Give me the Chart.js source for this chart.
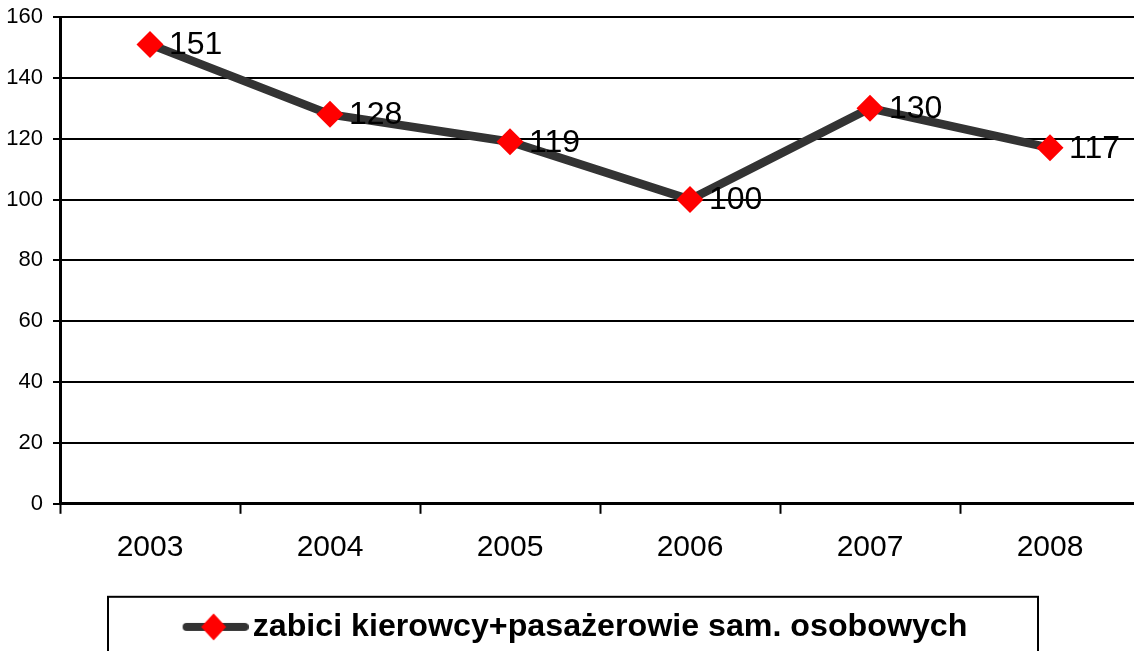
<!DOCTYPE html>
<html>
<head>
<meta charset="utf-8">
<script src="https://cdn.jsdelivr.net/npm/chart.js@4.4.0/dist/chart.umd.min.js"></script>
<style>
  html, body { margin: 0; padding: 0; background: #fff; overflow: hidden; }
  #wrap { width: 1134px; height: 651px; overflow: hidden; }
</style>
</head>
<body>
<div id="wrap">
  <canvas id="lineChart" width="1160" height="690"></canvas>
</div>
<script>
const years = ["2003", "2004", "2005", "2006", "2007", "2008"];
const killed = [151, 128, 119, 100, 130, 117];
const seriesLabel = "zabici kierowcy+pasażerowie sam. osobowych";
const yTicks = [0, 20, 40, 60, 80, 100, 120, 140, 160];

// legend symbol: line with a red diamond
const legendIcon = document.createElement("canvas");
legendIcon.width = 74;
legendIcon.height = 28;
(function () {
  const c = legendIcon.getContext("2d");
  c.strokeStyle = "#333333";
  c.lineWidth = 8;
  c.lineCap = "round";
  c.beginPath();
  c.moveTo(12, 14);
  c.lineTo(70, 14);
  c.stroke();
  c.fillStyle = "#ff0000";
  c.beginPath();
  c.moveTo(39, 0.5);
  c.lineTo(51.5, 14);
  c.lineTo(39, 27.5);
  c.lineTo(26.5, 14);
  c.closePath();
  c.fill();
})();

// value labels to the right of each point
const valueLabels = {
  id: "valueLabels",
  afterDatasetsDraw(chart) {
    const ctx = chart.ctx;
    const meta = chart.getDatasetMeta(0);
    ctx.save();
    ctx.font = "32px 'Liberation Sans', Arial, sans-serif";
    ctx.fillStyle = "#000";
    ctx.textAlign = "left";
    ctx.textBaseline = "middle";
    meta.data.forEach((pt, i) => {
      ctx.fillText(String(killed[i]), pt.x + 19, pt.y + 1);
    });
    ctx.restore();
  }
};

// nudge the legend a little right and draw a frame round it
const legendFrame = {
  id: "legendFrame",
  afterLayout(chart) {
    chart.legend.left += 7;
    chart.legend.right += 7;
  },
  afterDraw(chart) {
    const box = chart.legend.legendHitBoxes[0];
    if (!box) return;
    const ctx = chart.ctx;
    ctx.save();
    ctx.strokeStyle = "#000";
    ctx.lineWidth = 2;
    ctx.strokeRect(108, box.top - 14, 930, 120);
    ctx.restore();
  }
};

new Chart(document.getElementById("lineChart"), {
  type: "line",
  data: {
    labels: years,
    datasets: [{
      label: seriesLabel,
      data: killed,
      borderColor: "#333333",
      borderWidth: 8.5,
      backgroundColor: "#ff0000",
      pointStyle: "rectRot",
      pointRadius: 13.5,
      pointHoverRadius: 13.5,
      pointBackgroundColor: "#ff0000",
      pointBorderWidth: 0,
      fill: false,
      tension: 0
    }]
  },
  options: {
    responsive: false,
    animation: false,
    layout: { padding: { left: 0, right: 20, top: 17, bottom: 37 } },
    plugins: {
      tooltip: { enabled: false },
      legend: {
        position: "bottom",
        labels: {
          usePointStyle: true,
          pointStyle: legendIcon,
          pointStyleWidth: 50,
          padding: 10,
          color: "#000",
          font: { family: "'Liberation Sans', Arial, sans-serif", size: 32.2, weight: "bold" },
          generateLabels(chart) {
            return [{
              text: seriesLabel,
              pointStyle: legendIcon,
              fillStyle: "#ff0000",
              strokeStyle: "#333333",
              lineWidth: 0,
              datasetIndex: 0,
              hidden: false
            }];
          }
        }
      }
    },
    scales: {
      x: {
        offset: true,
        afterFit(scale) { scale.height = 97; },
        grid: {
          offset: true,
          drawOnChartArea: false,
          drawTicks: true,
          tickLength: 10,
          tickWidth: 2,
          tickColor: "#000"
        },
        border: { display: true, color: "#000", width: 3 },
        ticks: {
          color: "#000",
          padding: 16,
          maxRotation: 0,
          font: { family: "'Liberation Sans', Arial, sans-serif", size: 30 }
        }
      },
      y: {
        min: 0,
        max: 160,
        afterFit(scale) {
          scale.width = 60;
          scale.paddingTop = 0;
          scale.paddingBottom = 0;
        },
        afterBuildTicks(scale) { scale.ticks = yTicks.map(v => ({ value: v })); },
        grid: {
          color: "#000",
          lineWidth: 2,
          drawTicks: true,
          tickLength: 7,
          tickColor: "#000"
        },
        border: { display: true, color: "#000", width: 3 },
        ticks: {
          color: "#000",
          padding: 10,
          font: { family: "'Liberation Sans', Arial, sans-serif", size: 22 }
        }
      }
    }
  },
  plugins: [valueLabels, legendFrame]
});
</script>
</body>
</html>
